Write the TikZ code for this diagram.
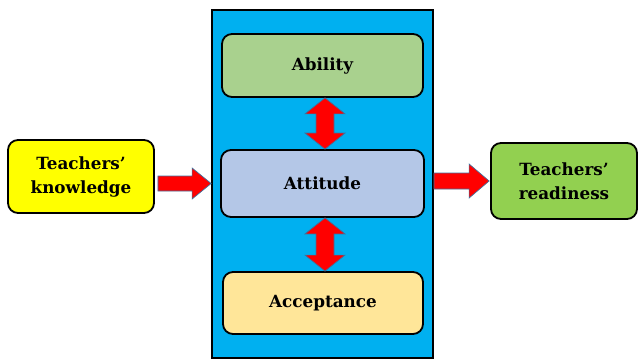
\documentclass[tikz,border=0pt]{standalone}
\usepackage{fontspec}
\setmainfont{DejaVu Serif}
\usetikzlibrary{calc}
\definecolor{outerblue}{HTML}{00B0F0}
\definecolor{abilgreen}{HTML}{A9D18E}
\definecolor{attblue}{HTML}{B4C7E7}
\definecolor{accyellow}{HTML}{FFE699}
\definecolor{knowyellow}{HTML}{FFFF00}
\definecolor{readgreen}{HTML}{92D050}
\definecolor{arrowedge}{HTML}{41719C}
\begin{document}
\begin{tikzpicture}[x=1pt,y=-1pt,
  box/.style={draw=black,line width=1.8pt,rounded corners=10pt,align=center,
    font=\bfseries\fontsize{16.8}{24}\selectfont,inner sep=0pt},
  fatarrow/.style={fill=red,draw=arrowedge,line width=0.7pt,line join=miter}]
\useasboundingbox (0,0) rectangle (638,361);
\fill[white] (0,0) rectangle (638,361);
\node[draw=black,line width=1.8pt,fill=outerblue,minimum width=221pt,minimum height=348pt,inner sep=0pt] (outer) at (322.5,184) {};
\node[box,fill=abilgreen,minimum width=201pt,minimum height=63pt] (abil) at (322.5,65.5) {Ability};
\node[box,fill=attblue,minimum width=203pt,minimum height=67pt] (att) at (322.5,183.5) {Attitude};
\node[box,fill=accyellow,minimum width=200pt,minimum height=62pt] (acc) at (323,303) {Acceptance};
\node[box,fill=knowyellow,minimum width=146pt,minimum height=73pt] (know) at (81,176.5) {Teachers’\\knowledge};
\node[box,fill=readgreen,minimum width=146pt,minimum height=76pt] (read) at (564,181) {Teachers’\\readiness};
% vertical double arrows
\path[fatarrow] ($(abil.south)+(2.5,0)$) -- ++(20,16) -- ++(-11,0) -- ($(att.north)+(11.5,-16)$) -- ++(11,0) -- ($(att.north)+(2.5,0)$)
  -- ++(-20,-16) -- ++(11,0) -- ($(abil.south)+(-6.5,16)$) -- ++(-11,0) -- cycle;
\path[fatarrow] ($(att.south)+(2.5,0)$) -- ++(20,16) -- ++(-11,0) -- ($(acc.north)+(11,-16)$) -- ++(11,0) -- ($(acc.north)+(2,0)$)
  -- ++(-20,-16) -- ++(11,0) -- ($(att.south)+(-6.5,16)$) -- ++(-11,0) -- cycle;
% horizontal arrows
\path[fatarrow] ($(know.east |- att.center)+(3,-7.5)$) -- ($(outer.west |- att.center)+(-19,-7.5)$) -- ++(0,-8) -- ($(outer.west |- att.center)$)
  -- ($(outer.west |- att.center)+(-19,15.5)$) -- ++(0,-8) -- ($(know.east |- att.center)+(3,7.5)$) -- cycle;
\path[fatarrow] ($(outer.east |- read.center)+(0,-8)$) -- ($(read.west)+(-21,-8)$) -- ++(0,-9) -- ($(read.west)+(-1,0)$)
  -- ($(read.west)+(-21,17)$) -- ++(0,-9) -- ($(outer.east |- read.center)+(0,8)$) -- cycle;
\end{tikzpicture}
\end{document}
